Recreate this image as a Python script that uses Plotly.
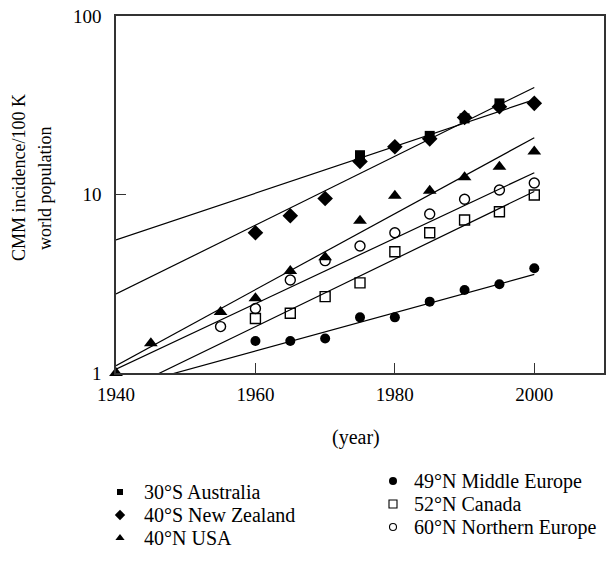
import plotly.graph_objects as go

# ---------------- data ----------------
years_au = [1975, 1985, 1990, 1995]
vals_au = [16.6, 21.3, 26.7, 32.4]

years_nz = [1960, 1965, 1970, 1975, 1980, 1985, 1990, 1995, 2000]
vals_nz = [6.1, 7.6, 9.5, 15.3, 18.5, 20.5, 27.0, 31.0, 32.4]

years_us = [1940, 1945, 1955, 1960, 1965, 1970, 1975, 1980, 1985, 1990, 1995, 2000]
vals_us = [1.0, 1.47, 2.2, 2.62, 3.73, 4.45, 7.13, 9.85, 10.5, 12.5, 14.3, 17.4]

years_me = [1960, 1965, 1970, 1975, 1980, 1985, 1990, 1995, 2000]
vals_me = [1.51, 1.51, 1.56, 2.05, 2.05, 2.51, 2.92, 3.14, 3.86]

years_ca = [1960, 1965, 1970, 1975, 1980, 1985, 1990, 1995, 2000]
vals_ca = [2.02, 2.16, 2.68, 3.2, 4.78, 6.1, 7.2, 8.0, 9.94]

years_ne = [1955, 1960, 1965, 1970, 1975, 1980, 1985, 1990, 1995, 2000]
vals_ne = [1.82, 2.30, 3.32, 4.26, 5.15, 6.1, 7.78, 9.4, 10.6, 11.6]

# fitted exponential trend lines: value at the start and end year
fit_years = [1940, 2000]
fit_au = [5.56, 34.0]
fit_nz = [2.77, 39.8]
fit_us = [1.10, 20.8]
fit_ne = [1.05, 13.25]
fit_ca = [0.76, 10.4]
fit_me = [0.81, 3.57]

series_names = ["30°S Australia", "40°S New Zealand", "40°N USA",
                "49°N Middle Europe", "52°N Canada", "60°N Northern Europe"]

x_ticks = [1940, 1960, 1980, 2000]
y_ticks = [1, 10, 100]
y_ticktext = ["1", "10", "100"]
y_title_lines = ["CMM incidence/100 K", "world population"]
x_title = "(year)"

# ---------------- styling ----------------
FONT = "Liberation Serif"
INK = "black"

styles = [
    dict(symbol="square", size=10),
    dict(symbol="diamond", size=12),
    dict(symbol="triangle-up", size=12),
    dict(symbol="circle", size=10),
    dict(symbol="square-open", size=10, line=dict(width=1.4, color=INK)),
    dict(symbol="circle-open", size=10, line=dict(width=1.4, color=INK)),
]
legend_styles = [
    dict(symbol="square", size=6),
    dict(symbol="diamond", size=8),
    dict(symbol="triangle-up", size=8),
    dict(symbol="circle", size=8),
    dict(symbol="square-open", size=8, line=dict(width=1.1, color=INK)),
    dict(symbol="circle-open", size=7, line=dict(width=1.1, color=INK)),
]

data_sets = [(years_au, vals_au), (years_nz, vals_nz), (years_us, vals_us),
             (years_me, vals_me), (years_ca, vals_ca), (years_ne, vals_ne)]
fits = [fit_au, fit_nz, fit_us, fit_me, fit_ca, fit_ne]

fig = go.Figure()

# trend lines
for name, fv in zip(series_names, fits):
    fig.add_trace(go.Scatter(x=fit_years, y=fv, mode="lines",
                             line=dict(color=INK, width=1.2),
                             showlegend=False, hoverinfo="skip", name=name + " fit"))

# data markers
for name, (xs, ys), st in zip(series_names, data_sets, styles):
    fig.add_trace(go.Scatter(x=xs, y=ys, mode="markers", name=name,
                             marker=dict(color=INK, **st),
                             cliponaxis=False, showlegend=False))

# ---------------- layout geometry (reference-pixel coordinates) ----------------
W, H = 612, 563
PLOT_L, PLOT_R, PLOT_T, PLOT_B = 116, 604, 16, 373
PAPER_B = 553
ML, MT = PLOT_L, PLOT_T
MR = W - PLOT_R
MB = H - PAPER_B
paper_h = PAPER_B - PLOT_T
ydom_split = (PAPER_B - PLOT_B) / paper_h


def px_to_paper(px, py):
    return (px - PLOT_L) / (PLOT_R - PLOT_L), 1 - (py - PLOT_T) / paper_h


leg_cols = [(120, 142, [492, 515, 538]), (393, 412, [481, 504, 527])]
leg_pos = []
for mx, tx, rows in leg_cols:
    for ry in rows:
        leg_pos.append((mx, tx, ry))

annotations = []
for (mx, tx, ry), name, st in zip(leg_pos, series_names, legend_styles):
    fig.add_trace(go.Scatter(x=[mx], y=[ry], mode="markers", xaxis="x2", yaxis="y2",
                             marker=dict(color=INK, **st), cliponaxis=False,
                             showlegend=False, hoverinfo="skip"))
    annotations.append(dict(x=tx, y=ry, xref="x2", yref="y2", text=name,
                            showarrow=False, xanchor="left", yanchor="middle",
                            font=dict(family=FONT, size=20, color=INK)))

# x-axis title
annotations.append(dict(x=356, y=437, xref="x2", yref="y2", text=x_title,
                        showarrow=False, xanchor="center", yanchor="middle",
                        font=dict(family=FONT, size=20, color=INK)))

# y-axis title (two rotated lines, bottom-aligned like the reference)
for (cx, cy), line_text in zip([(19, 178), (45, 188)], y_title_lines):
    ax_, ay_ = px_to_paper(cx, cy)
    annotations.append(dict(x=ax_, y=ay_, xref="paper", yref="paper", text=line_text,
                            textangle=-90, showarrow=False, xanchor="center",
                            yanchor="middle", borderpad=0,
                            font=dict(family=FONT, size=18, color=INK)))

axis_common = dict(showline=True, linecolor="#333", linewidth=1.5, mirror=True,
                   ticks="inside", ticklen=10, tickwidth=1.3, tickcolor="#333",
                   showgrid=False, zeroline=False, automargin=False,
                   ticklabeloverflow="allow",
                   tickfont=dict(family=FONT, size=19, color=INK))

fig.update_layout(
    width=W, height=H,
    margin=dict(l=ML, r=MR, t=MT, b=MB, autoexpand=False),
    paper_bgcolor="white", plot_bgcolor="white",
    showlegend=False,
    xaxis=dict(range=[1940, 2010], tickvals=x_ticks, domain=[0, 1], anchor="y",
               ticklabelstandoff=3, **axis_common),
    yaxis=dict(type="log", range=[0, 2], tickvals=y_ticks, ticktext=y_ticktext,
               ticklabelstandoff=9,
               domain=[ydom_split, 1], anchor="x", **axis_common),
    xaxis2=dict(range=[PLOT_L, PLOT_R], domain=[0, 1], anchor="y2", visible=False, fixedrange=True),
    yaxis2=dict(range=[PAPER_B, PLOT_B], domain=[0, ydom_split], anchor="x2",
                visible=False, fixedrange=True),
    annotations=annotations,
)

# remove the page's default body margin so the figure sits at the window's corner
fig.write_html("out.html",
               config={"displayModeBar": False},
               post_script="document.body.style.margin='0';document.body.style.overflow='hidden';")
